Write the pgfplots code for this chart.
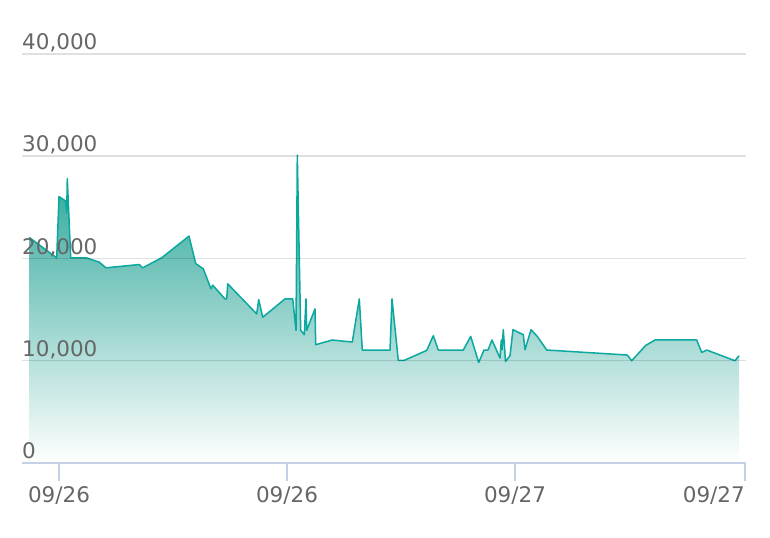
\documentclass[border=0pt]{standalone}
\usepackage{pgfplots}
\pgfplotsset{compat=1.18}
\usepackage{pgfplotstable}
\usepackage{fontspec}
\setmainfont{DejaVu Sans}

\definecolor{linec}{RGB}{10,168,158}
\definecolor{fillc}{RGB}{34,162,148}
\definecolor{axisc}{RGB}{197,207,230}
\definecolor{labc}{RGB}{102,102,102}

% x = position along the time axis, y = value
\pgfplotstableread{
x y
29.3 22060
56.7 20060
59.0 26050
65.7 25620
66.7 24480
67.3 27810
70.7 20070
86.0 20070
99.3 19640
106.0 19090
139.3 19410
142.7 19090
161.7 20070
189.0 22190
195.7 19510
203.3 18990
211.0 17030
212.7 17390
225.0 16050
226.7 16050
227.7 17520
256.7 14580
258.7 15980
262.7 14250
285.0 16050
292.7 16050
296.0 12970
297.3 30100
300.7 12970
304.3 12550
306.0 16050
306.7 12970
315.0 15070
315.7 11570
332.3 12030
352.3 11830
359.3 16050
362.3 11050
390.0 11050
392.0 16050
398.3 10030
404.0 10030
426.7 11010
433.3 12450
438.3 11050
463.3 11050
470.7 12380
478.7 9830
484.0 11050
488.0 11050
492.0 12030
500.0 10260
501.3 12030
502.0 11080
503.3 13040
505.5 9930
510.0 10490
513.0 13040
523.3 12550
525.0 11080
531.0 13040
537.3 12380
546.7 11050
627.3 10560
631.7 10000
645.7 11500
655.0 12030
696.7 12030
701.7 10810
706.7 11050
735.0 10000
739.0 10490
}\pricedata

\begin{document}
\begin{tikzpicture}
\path[use as bounding box] (-22bp,-75bp) rectangle (748bp,463bp);
\begin{axis}[
    at={(0,0)}, anchor=south west,
    scale only axis,
    width=724bp, height=409bp,
    xmin=22, xmax=746,
    ymin=0, ymax=40000,
    scaled y ticks=false,
    axis x line*=bottom,
    axis y line*=left,
    y axis line style={draw=none},
    x axis line style={axisc, line width=1.5bp},
    xtick={59,287,515},
    xticklabels={09/26,09/26,09/27},
    extra x ticks={745},
    extra x tick labels={09/27},
    extra x tick style={xticklabel style={anchor=base east}},
    ytick={0,10000,20000,30000,40000},
    yticklabels={0,{10,000},{20,000},{30,000},{40,000}},
    ymajorgrids=true,
    grid style={black, opacity=0.12, line width=1.5bp},
    tick align=outside,
    major tick length=18bp,
    xtick style={axisc, line width=1.5bp},
    ytick style={draw=none},
    every tick label/.append style={font=\fontsize{21.5bp}{26bp}\selectfont, text=labc},
    xticklabel style={anchor=base, inner sep=0pt, yshift=-21bp},
    yticklabel style={anchor=base west, inner sep=0pt, xshift=18bp, yshift=4.5bp},
    axis on top,
    clip=false,
]
\addplot[draw=none, top color=fillc, bottom color=white, forget plot]
    table[x=x, y=y] {\pricedata} \closedcycle;
\addplot[linec, line width=1.5bp, line join=round, mark=none]
    table[x=x, y=y] {\pricedata};
\end{axis}
\end{tikzpicture}
\end{document}
